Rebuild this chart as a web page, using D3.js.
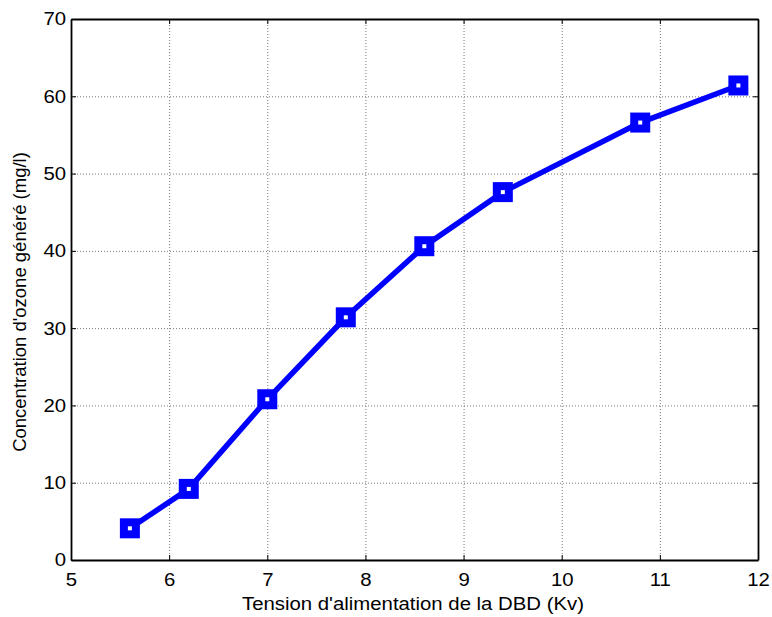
<!DOCTYPE html>
<html>
<head>
<meta charset="utf-8">
<script src="https://cdn.jsdelivr.net/npm/d3@7"></script>
<style>
  body { margin: 0; background: #fff; }
  text { font-family: "Liberation Sans", Arial, sans-serif; fill: #000; }
</style>
</head>
<body>
<div id="chart"></div>
<script>
const tension = [5.6, 6.2, 7.0, 7.8, 8.6, 9.4, 10.8, 11.8];
const ozone = [4.1, 9.2, 20.8, 31.4, 40.6, 47.6, 56.6, 61.4];
const xTicks = [5, 6, 7, 8, 9, 10, 11, 12];
const yTicks = [0, 10, 20, 30, 40, 50, 60, 70];

const width = 772, height = 617;
const margin = { left: 71, right: 14, top: 19, bottom: 57 };
const fontSize = 18.5;
const stretch = 'scale(1.1,1)';

const svg = d3.select('#chart').append('svg')
  .attr('width', width)
  .attr('height', height);

const x = d3.scaleLinear().domain([5, 12]).range([margin.left, width - margin.right]);
const y = d3.scaleLinear().domain([0, 70]).range([height - margin.bottom, margin.top]);

// dotted grid
const grid = svg.append('g').attr('stroke', '#777').attr('stroke-dasharray', '1,2').attr('stroke-width', 1);
grid.selectAll('.gx').data(xTicks.slice(1, -1)).enter().append('line')
  .attr('x1', d => x(d) + 0.5).attr('x2', d => x(d) + 0.5)
  .attr('y1', y(70)).attr('y2', y(0));
grid.selectAll('.gy').data(yTicks.slice(1, -1)).enter().append('line')
  .attr('y1', d => y(d) + 0.5).attr('y2', d => y(d) + 0.5)
  .attr('x1', x(5)).attr('x2', x(12));

// box axes, ticks pointing inward
const tickLen = 5;
const fmt = d3.format('d');
svg.append('g')
  .attr('transform', `translate(0,${y(0)})`)
  .call(d3.axisBottom(x).tickValues(xTicks).tickSize(-tickLen).tickSizeOuter(0).tickPadding(13).tickFormat(fmt))
  .call(g => g.selectAll('text').style('font-size', fontSize + 'px').attr('transform', stretch));
svg.append('g')
  .attr('transform', `translate(0,${y(70)})`)
  .call(d3.axisTop(x).tickValues(xTicks).tickSize(-tickLen).tickSizeOuter(0).tickFormat(''));
svg.append('g')
  .attr('transform', `translate(${x(5)},0)`)
  .call(d3.axisLeft(y).tickValues(yTicks).tickSize(-tickLen).tickSizeOuter(0).tickPadding(4.5).tickFormat(fmt))
  .call(g => g.selectAll('text').style('font-size', fontSize + 'px').attr('transform', stretch));
svg.append('g')
  .attr('transform', `translate(${x(12)},0)`)
  .call(d3.axisRight(y).tickValues(yTicks).tickSize(-tickLen).tickSizeOuter(0).tickFormat(''));
svg.selectAll('.domain').attr('stroke', '#000').attr('stroke-width', 1.8);
svg.selectAll('.tick line').attr('stroke', '#000');

// series line
const pts = tension.map((t, i) => [t, ozone[i]]);
svg.append('path')
  .datum(pts)
  .attr('fill', 'none')
  .attr('stroke', '#0000ff')
  .attr('stroke-width', 5.5)
  .attr('d', d3.line().x(d => x(d[0])).y(d => y(d[1])));

// square markers (thick edge, small white core)
svg.selectAll('.m').data(pts).enter().append('rect')
  .attr('x', d => x(d[0]) - 6)
  .attr('y', d => y(d[1]) - 6)
  .attr('width', 12).attr('height', 12)
  .attr('fill', '#fff')
  .attr('stroke', '#0000ff')
  .attr('stroke-width', 8);

// axis titles
svg.append('text')
  .attr('transform', `translate(413,610) ${stretch}`)
  .attr('text-anchor', 'middle').style('font-size', fontSize + 'px')
  .text("Tension d'alimentation de la DBD (Kv)");
svg.append('text')
  .attr('transform', `translate(26,302) rotate(-90)`)
  .attr('text-anchor', 'middle').style('font-size', fontSize + 'px')
  .text("Concentration d'ozone généré (mg/l)");
</script>
</body>
</html>
